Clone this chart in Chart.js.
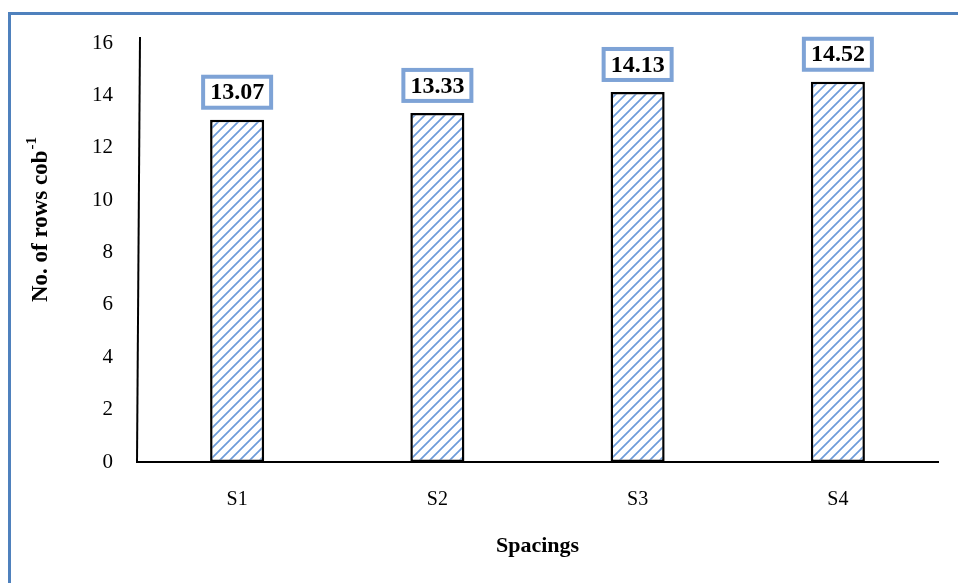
<!DOCTYPE html>
<html>
<head>
<meta charset="utf-8">
<title>No. of rows per cob by spacing</title>
<script src="https://cdn.jsdelivr.net/npm/chart.js@4.4.1/dist/chart.umd.min.js"></script>
<style>
  html, body { margin: 0; padding: 0; background: #fff; }
  #wrap { width: 958px; height: 583px; }
</style>
</head>
<body>
<div id="wrap"><canvas id="rowsChart"></canvas></div>
<script>
const spacings = ['S1', 'S2', 'S3', 'S4'];
const rowsPerCob = [13.07, 13.33, 14.13, 14.52];
const yTicks = [0, 2, 4, 6, 8, 10, 12, 14, 16];

const SERIF = '"Liberation Serif", "Times New Roman", serif';
const FRAME_BLUE = '#4f81bd';

// diagonal blue hatch used as the bar fill
function makeHatch() {
  const s = 10;
  const c = document.createElement('canvas');
  c.width = s; c.height = s;
  const g = c.getContext('2d');
  g.fillStyle = '#fff';
  g.fillRect(0, 0, s, s);
  g.strokeStyle = '#6d9bd9';
  g.lineWidth = 1.7;
  g.beginPath();
  g.moveTo(-1, s + 1); g.lineTo(s + 1, -1);
  g.moveTo(-s / 2 - 1, s / 2 + 1); g.lineTo(s / 2 + 1, -s / 2 - 1);
  g.moveTo(s / 2 - 1, s * 1.5 + 1); g.lineTo(s * 1.5 + 1, s / 2 - 1);
  g.stroke();
  return g.createPattern(c, 'repeat');
}

// outer frame (top and left edges) plus the hand-drawn looking y axis
const framePlugin = {
  id: 'frame',
  beforeDraw(chart) {
    const ctx = chart.ctx;
    ctx.save();
    ctx.fillStyle = '#fff';
    ctx.fillRect(0, 0, chart.width, chart.height);
    ctx.fillStyle = FRAME_BLUE;
    ctx.fillRect(8, 12, chart.width - 8, 3);
    ctx.fillRect(8, 12, 3, chart.height - 12);
    ctx.restore();
  },
  afterDraw(chart) {
    const { ctx, chartArea } = chart;
    ctx.save();
    ctx.strokeStyle = '#000';
    ctx.lineWidth = 2;
    ctx.beginPath();
    ctx.moveTo(chartArea.left + 3, chartArea.top - 6);
    ctx.lineTo(chartArea.left, chartArea.bottom);
    ctx.stroke();
    ctx.restore();
  }
};

// y axis title with superscript "-1"
const yTitlePlugin = {
  id: 'yTitle',
  afterDraw(chart) {
    const ctx = chart.ctx;
    ctx.save();
    ctx.translate(41, 220);
    ctx.rotate(-Math.PI / 2);
    ctx.fillStyle = '#000';
    ctx.textBaseline = 'middle';
    const main = 'No. of rows cob';
    const sup = '-1';
    ctx.font = 'bold 23px ' + SERIF;
    const w1 = ctx.measureText(main).width;
    ctx.font = 'bold 15px ' + SERIF;
    const w2 = ctx.measureText(sup).width;
    const x0 = -(w1 + w2) / 2;
    ctx.font = 'bold 23px ' + SERIF;
    ctx.fillText(main, x0, 0);
    ctx.font = 'bold 15px ' + SERIF;
    ctx.fillText(sup, x0 + w1 + 1, -9);
    ctx.restore();
  }
};

// boxed value labels above each bar
const valueBoxPlugin = {
  id: 'valueBoxes',
  afterDatasetsDraw(chart) {
    const ctx = chart.ctx;
    const meta = chart.getDatasetMeta(0);
    ctx.save();
    ctx.font = 'bold 24px ' + SERIF;
    ctx.textAlign = 'center';
    ctx.textBaseline = 'middle';
    meta.data.forEach((bar, i) => {
      const label = rowsPerCob[i].toFixed(2);
      const tw = ctx.measureText(label).width;
      const w = tw + 14, h = 31;
      const x = bar.x - w / 2;
      const y = bar.y - 12 - h;
      ctx.fillStyle = '#fff';
      ctx.fillRect(x, y, w, h);
      ctx.strokeStyle = '#7ea3d6';
      ctx.lineWidth = 4;
      ctx.strokeRect(x, y, w, h);
      ctx.fillStyle = '#000';
      ctx.fillText(label, bar.x, y + h / 2 + 1);
    });
    ctx.restore();
  }
};

new Chart(document.getElementById('rowsChart').getContext('2d'), {
  type: 'bar',
  data: {
    labels: spacings,
    datasets: [{
      data: rowsPerCob,
      backgroundColor: makeHatch(),
      borderColor: '#000',
      borderWidth: 2.5,
      borderSkipped: false,
      barPercentage: 1,
      categoryPercentage: 0.27
    }]
  },
  options: {
    responsive: true,
    maintainAspectRatio: false,
    animation: false,
    layout: { padding: { left: 0, top: 43, right: 20, bottom: 0 } },
    plugins: {
      legend: { display: false },
      tooltip: { enabled: false }
    },
    scales: {
      x: {
        grid: { display: false, drawTicks: false },
        border: { display: true, color: '#000', width: 2 },
        ticks: { color: '#000', padding: 26, font: { family: SERIF, size: 20 } },
        title: {
          display: true,
          text: 'Spacings',
          color: '#000',
          font: { family: SERIF, size: 22, weight: 'bold' },
          padding: { top: 0, bottom: 23 }
        },
        afterFit(scale) { scale.height = 121; }
      },
      y: {
        min: 0,
        max: 16,
        grid: { display: false, drawTicks: false },
        border: { display: false },
        afterBuildTicks(scale) { scale.ticks = yTicks.map(v => ({ value: v })); },
        ticks: { color: '#000', padding: 24, font: { family: SERIF, size: 21 } },
        afterFit(scale) { scale.width = 137; }
      }
    }
  },
  plugins: [framePlugin, yTitlePlugin, valueBoxPlugin]
});
</script>
</body>
</html>
